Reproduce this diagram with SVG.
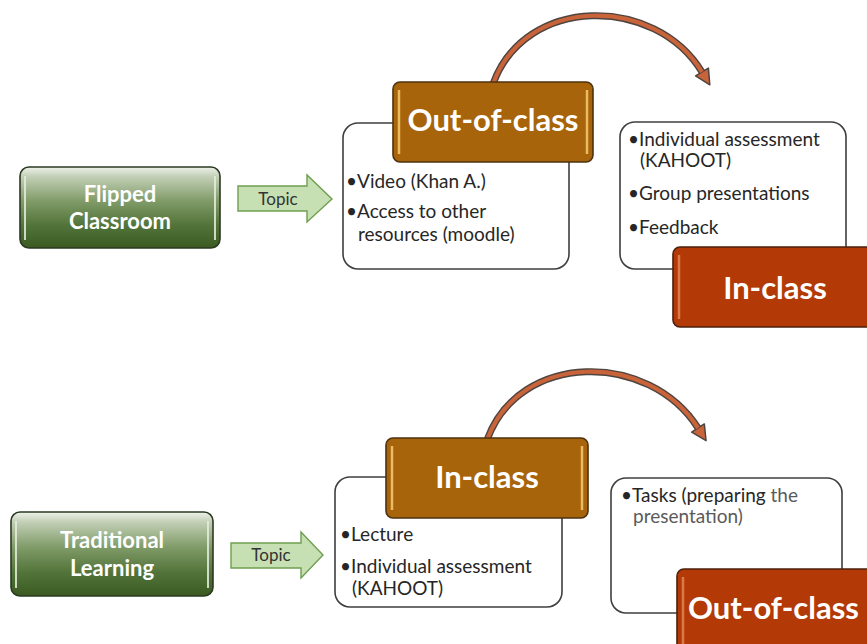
<svg xmlns="http://www.w3.org/2000/svg" width="867" height="644" viewBox="0 0 867 644">
<defs>
<linearGradient id="gGreen" x1="0" y1="0" x2="0" y2="1">
<stop offset="0" stop-color="#eef2ea"/>
<stop offset="0.12" stop-color="#c2cfb6"/>
<stop offset="0.42" stop-color="#809b68"/>
<stop offset="0.72" stop-color="#52743a"/>
<stop offset="1" stop-color="#3a5a22"/>
</linearGradient>
<marker id="ah" markerUnits="userSpaceOnUse" markerWidth="20" markerHeight="20" refX="0" refY="8" orient="auto" viewBox="-1 0 16 16">
<path d="M0,2 L12,8 L0,14 Z" fill="#c9643a" stroke="#4e4440" stroke-width="1.2" stroke-linejoin="round"/>
</marker>
<style>
.wbox{fill:#ffffff;stroke:#3f3f3f;stroke-width:1.6}
.green{fill:url(#gGreen);stroke:#2c3a22;stroke-width:1.6}
.brown{fill:#a8640a;stroke:#4c3210;stroke-width:1.6}
.red{fill:#b33a06;stroke:#4c2010;stroke-width:1.6}
.hlG{stroke:#e6eedc;stroke-width:2;opacity:0.85}
.hlB{stroke:#f2c56a;stroke-width:2.5;opacity:0.9}
.hlR{stroke:#e08050;stroke-width:2.5;opacity:0.9}
.gt{font-family:Lato,"Open Sans","Liberation Sans",sans-serif;font-weight:bold;font-size:22px;fill:#ffffff;text-anchor:middle}
.bt{font-family:Lato,"Open Sans","Liberation Sans",sans-serif;font-weight:bold;font-size:31px;fill:#ffffff;text-anchor:middle}
.tx{font-family:Lato,"Open Sans","Liberation Sans",sans-serif;font-size:19px;fill:#262626}
.tl{fill:#5a5a5a}
.topic{fill:#c6e0b4;stroke:#6f9e50;stroke-width:1.4}
.tt{font-family:Lato,"Open Sans","Liberation Sans",sans-serif;font-size:17px;fill:#333333;text-anchor:middle}
.arcO{fill:none;stroke:#4e4440;stroke-width:7;stroke-linecap:butt}
.arcI{fill:none;stroke:#c9643a;stroke-width:4.2;stroke-linecap:butt}
</style>
</defs>
<rect width="867" height="644" fill="#ffffff"/>

<g id="connectors">
<path class="arcO" d="M493,84 C525,-5 655,-5 702,72" marker-end="url(#ah)"/>
<path class="arcI" d="M493,84 C525,-5 655,-5 702,72"/>
<path class="arcO" d="M487,440 C519,351 649,351 698,428" marker-end="url(#ah)"/>
<path class="arcI" d="M487,440 C519,351 649,351 698,428"/>
<g id="topic1">
<path class="topic" d="M238,186 L307,186 L307,175 L332,199 L307,222 L307,211 L238,211 Z"/>
<text class="tt" x="278" y="205">Topic</text>
</g>
<g id="topic2">
<path class="topic" d="M231,543 L301,543 L301,532 L323,555 L301,578 L301,568 L231,568 Z"/>
<text class="tt" x="271" y="561">Topic</text>
</g>
</g>

<g id="flipped">
<rect class="green" x="20" y="167" width="200" height="81" rx="9"/>
<line class="hlG" x1="25" y1="176" x2="25" y2="240"/>
<line class="hlG" x1="215" y1="176" x2="215" y2="240"/>
<text class="gt" x="120" y="202">Flipped</text>
<text class="gt" x="120" y="229">Classroom</text>
</g>

<g id="traditional">
<rect class="green" x="11" y="512" width="202" height="84" rx="9"/>
<line class="hlG" x1="16" y1="521" x2="16" y2="588"/>
<line class="hlG" x1="208" y1="521" x2="208" y2="588"/>
<text class="gt" x="112" y="548">Traditional</text>
<text class="gt" x="112" y="576">Learning</text>
</g>

<g id="outclass-top">
<rect class="wbox" x="343" y="123" width="226" height="146" rx="15"/>
<rect class="brown" x="393" y="82" width="200" height="80" rx="7"/>
<line class="hlB" x1="399" y1="90" x2="399" y2="154"/>
<line class="hlB" x1="587" y1="90" x2="587" y2="154"/>
<text class="bt" x="493" y="131">Out-of-class</text>
<text class="tx" x="346" y="188">•<tspan dx="0">Video (Khan A.)</tspan></text>
<text class="tx" x="346" y="218">•<tspan dx="0">Access to other</tspan></text>
<text class="tx" x="358" y="241">resources (moodle)</text>
</g>

<g id="inclass-top">
<rect class="wbox" x="620" y="122" width="226" height="147" rx="15"/>
<rect class="red" x="673" y="247" width="210" height="80" rx="7"/>
<line class="hlR" x1="679" y1="255" x2="679" y2="319"/>
<text class="bt" x="775" y="299">In-class</text>
<text class="tx" x="628" y="146">•<tspan dx="0">Individual assessment</tspan></text>
<text class="tx" x="640" y="167">(KAHOOT)</text>
<text class="tx" x="628" y="200">•<tspan dx="0">Group presentations</tspan></text>
<text class="tx" x="628" y="234">•<tspan dx="0">Feedback</tspan></text>
</g>

<g id="inclass-bottom">
<rect class="wbox" x="335" y="477" width="227" height="130" rx="15"/>
<rect class="brown" x="386" y="438" width="202" height="80" rx="7"/>
<line class="hlB" x1="392" y1="446" x2="392" y2="510"/>
<line class="hlB" x1="582" y1="446" x2="582" y2="510"/>
<text class="bt" x="487" y="488">In-class</text>
<text class="tx" x="340" y="541">•<tspan dx="0">Lecture</tspan></text>
<text class="tx" x="340" y="573">•<tspan dx="0">Individual assessment</tspan></text>
<text class="tx" x="352" y="595">(KAHOOT)</text>
</g>

<g id="outclass-bottom">
<rect class="wbox" x="611" y="478" width="231" height="135" rx="15"/>
<rect class="red" x="677" y="569" width="210" height="90" rx="7"/>
<line class="hlR" x1="683" y1="577" x2="683" y2="644"/>
<text class="bt" x="688" y="619" style="text-anchor:start">Out-of-class</text>
<text class="tx" x="621" y="502">•<tspan dx="0">Tasks (preparing </tspan><tspan class="tl">the</tspan></text>
<text class="tx tl" x="633" y="523">presentation)</text>
</g>
</svg>
